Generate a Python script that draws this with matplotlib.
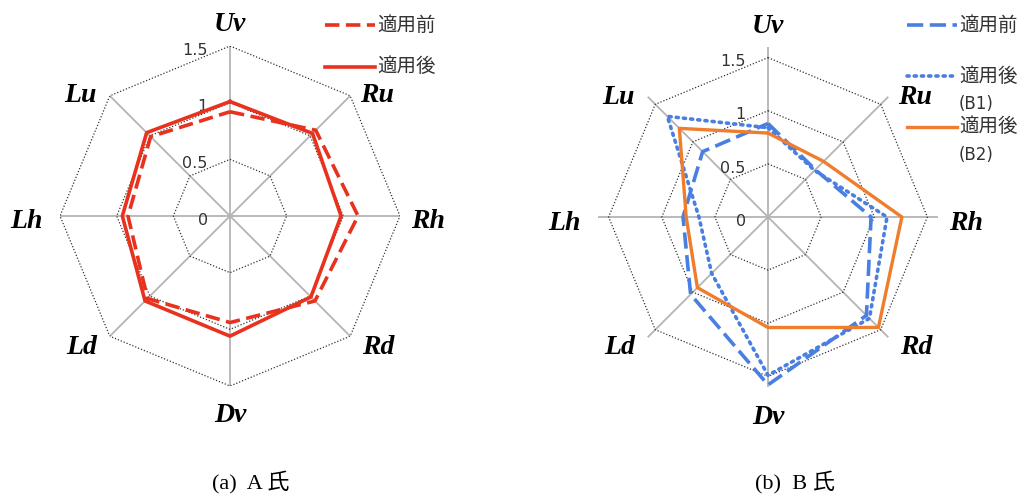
import numpy as np
import matplotlib
matplotlib.use("Agg")
import matplotlib.pyplot as plt
from matplotlib.lines import Line2D

plt.rcParams['font.family'] = ['DejaVu Sans', 'Noto Sans CJK JP']

# axis names, clockwise from the top
axes_names = ['Uv', 'Ru', 'Rh', 'Rd', 'Dv', 'Ld', 'Lh', 'Lu']

# (a) subject A
a_before = [0.92, 1.07, 1.13, 1.06, 0.94, 1.03, 0.90, 0.99]
a_after = [1.01, 1.03, 0.98, 1.01, 1.06, 1.06, 0.95, 1.04]

# (b) subject B
b_before = [0.88, 0.63, 0.97, 1.31, 1.58, 1.03, 0.80, 0.87]
b_after_b1 = [0.84, 0.62, 1.12, 1.35, 1.49, 0.75, 0.65, 1.34]
b_after_b2 = [0.79, 0.74, 1.26, 1.47, 1.04, 0.94, 0.77, 1.18]

ring_levels = [0.5, 1.0, 1.5]
tick_labels = ['0', '0.5', '1', '1.5']
tick_values = [0.0, 0.5, 1.0, 1.5]

W, H = 1027, 497
fig = plt.figure(figsize=(W / 100, H / 100), dpi=100)

theta = np.linspace(0, 2 * np.pi, len(axes_names), endpoint=False)
theta_c = np.append(theta, theta[0])


def closed(v):
    return np.append(v, v[0])


# label centres, pixel offsets from the chart centre (x right, y down)
label_off = [(0, -191), (147, -120), (198, 6), (148, 131),
             (0, 200), (-148, 131), (-204, 6), (-150, -120)]


def make_radar(cx, cy, rmax):
    size = 340
    ax = fig.add_axes([(cx - size / 2) / W, (H - cy - size / 2) / H,
                       size / W, size / H], projection='polar')
    ax.set_theta_offset(np.pi / 2)
    ax.set_theta_direction(-1)
    ax.set_ylim(0, rmax)
    ax.set_axis_off()
    # spokes
    for t in theta:
        ax.plot([t, t], [0, rmax], color='#b4b4b4', lw=1.3, zorder=1)
    # dotted octagon rings
    for r in ring_levels:
        ax.plot(theta_c, [r] * len(theta_c), color='#333333', lw=0.9,
                ls=(0, (1, 1.5)), zorder=1)
    # value labels left of the top spoke
    for v, s in zip(tick_values, tick_labels):
        ax.annotate(s, xy=(0, v), xytext=(-16, -3), textcoords='offset points',
                    ha='right', va='center', fontsize=11.5, color='#333333')
    for name, (dx, dy) in zip(axes_names, label_off):
        ax.text(0.5 + dx / size, 0.5 - dy / size, name, transform=ax.transAxes,
                ha='center', va='center', fontsize=20, fontweight='bold',
                fontstyle='italic', family='Liberation Serif')
    return ax


def px(x, y):
    return x / W, 1 - y / H


def legend_row(x0, y, style, color, text, sub=None):
    fig.add_artist(Line2D([px(x0, y)[0], px(x0 + 50, y)[0]], [px(x0, y)[1]] * 2,
                          color=color, transform=fig.transFigure, **style))
    fig.text(*px(x0 + 52, y), text, ha='left', va='center', fontsize=14,
             color='#333333', family=['Noto Sans CJK JP', 'DejaVu Sans'])
    if sub:
        fig.text(*px(x0 + 52, y + 28), sub, ha='left', va='center',
                 fontsize=12, color='#333333')


red = '#e8321e'
blue = '#4a7fe2'
orange = '#ef7d2d'

dash_a = dict(lw=2.6, ls=(0, (4, 1.8)))
solid_a = dict(lw=2.6, ls='-')
dash_b = dict(lw=2.6, ls=(0, (4.5, 1.8)))
dot_b = dict(lw=2.6, ls=(0, (0.6, 1.4)), dash_capstyle='round')
solid_b = dict(lw=2.4, ls='-')

ax1 = make_radar(230, 216, 1.5)
ax1.plot(theta_c, closed(a_before), color=red, zorder=3, **dash_a)
ax1.plot(theta_c, closed(a_after), color=red, zorder=3, **solid_a)

ax2 = make_radar(768, 217, 1.6)
ax2.plot(theta_c, closed(b_before), color=blue, zorder=3, **dash_b)
ax2.plot(theta_c, closed(b_after_b1), color=blue, zorder=3, **dot_b)
ax2.plot(theta_c, closed(b_after_b2), color=orange, zorder=4, **solid_b)

legend_row(325, 25, dash_a, red, '適用前')
legend_row(325, 67, solid_a, red, '適用後')
legend_row(907, 25, dash_b, blue, '適用前')
legend_row(907, 76, dot_b, blue, '適用後', '(B1)')
legend_row(907, 127, solid_b, orange, '適用後', '(B2)')

cap_font = ['Liberation Serif', 'Noto Sans CJK JP']
fig.text(*px(251, 482), '(a)  A 氏', ha='center', va='center', fontsize=16,
         family=cap_font)
fig.text(*px(795, 482), '(b)  B 氏', ha='center', va='center', fontsize=16,
         family=cap_font)

fig.savefig('out.png', dpi=100)
